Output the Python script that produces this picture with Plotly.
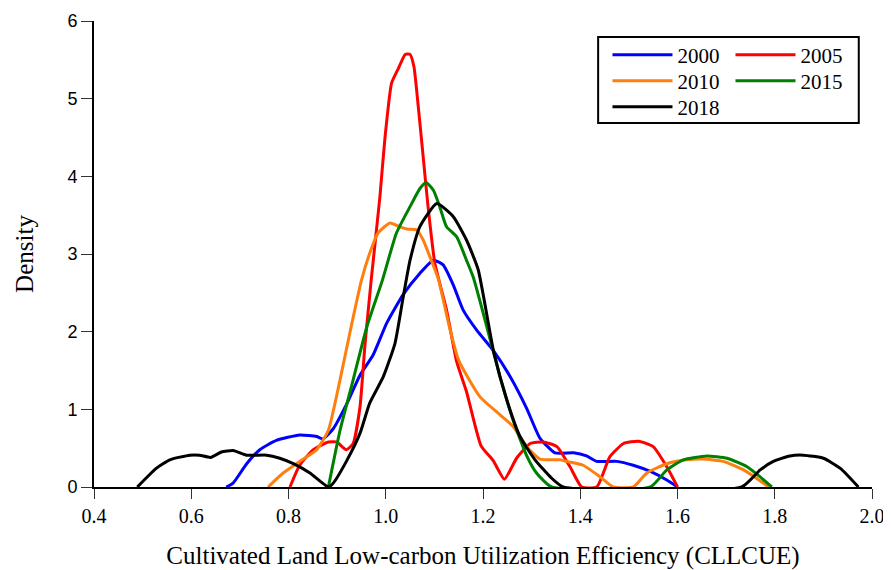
import plotly.graph_objects as go

# ---- data (kernel density curves) ----
years = ["2000", "2005", "2010", "2015", "2018"]

x2000 = [0.672, 0.686, 0.714, 0.741, 0.775, 0.823, 0.858, 0.871, 0.892, 0.919, 0.947, 0.974,
         1.002, 1.036, 1.070, 1.098, 1.118, 1.139, 1.159, 1.187, 1.221, 1.256, 1.290, 1.317,
         1.348, 1.386, 1.413, 1.434, 1.475, 1.509, 1.544, 1.578, 1.600]
y2000 = [0, 0.05, 0.30, 0.48, 0.60, 0.67, 0.65, 0.62, 0.75, 1.06, 1.44, 1.70,
         2.11, 2.48, 2.75, 2.92, 2.86, 2.60, 2.28, 2.02, 1.76, 1.42, 1.01, 0.63,
         0.44, 0.44, 0.40, 0.33, 0.33, 0.28, 0.20, 0.09, 0]

x2005 = [0.803, 0.823, 0.851, 0.882, 0.899, 0.919, 0.933, 0.947, 0.957, 0.970, 0.988, 0.998,
         1.012, 1.026, 1.040, 1.050, 1.058, 1.067, 1.077, 1.087, 1.101, 1.125, 1.146, 1.166,
         1.196, 1.221, 1.244, 1.269, 1.297, 1.324, 1.352, 1.379, 1.403, 1.434, 1.461, 1.489,
         1.520, 1.550, 1.578, 1.600]
y2005 = [0, 0.28, 0.48, 0.58, 0.58, 0.48, 0.56, 1.03, 1.81, 2.66, 3.74, 4.47,
         5.20, 5.39, 5.57, 5.57, 5.41, 4.89, 4.25, 3.61, 2.88, 2.28, 1.61, 1.23,
         0.53, 0.34, 0.10, 0.37, 0.56, 0.58, 0.52, 0.26, 0, 0, 0.39, 0.56,
         0.59, 0.52, 0.26, 0]

x2010 = [0.758, 0.789, 0.823, 0.858, 0.882, 0.906, 0.926, 0.950, 0.967, 0.984, 1.009, 1.029,
         1.046, 1.064, 1.077, 1.091, 1.108, 1.131, 1.150, 1.194, 1.235, 1.262, 1.290, 1.317,
         1.358, 1.372, 1.406, 1.441, 1.468, 1.509, 1.537, 1.578, 1.619, 1.653, 1.694, 1.736,
         1.763, 1.787]
y2010 = [0, 0.18, 0.33, 0.48, 0.73, 1.38, 1.98, 2.66, 3.01, 3.27, 3.40, 3.35,
         3.32, 3.31, 3.18, 2.96, 2.68, 2.06, 1.63, 1.16, 0.93, 0.78, 0.52, 0.36,
         0.35, 0.33, 0.28, 0.13, 0, 0, 0.18, 0.30, 0.35, 0.36, 0.33, 0.22,
         0.11, 0]

x2015 = [0.882, 0.906, 0.933, 0.961, 0.993, 1.022, 1.050, 1.070, 1.083, 1.098, 1.111, 1.125,
         1.146, 1.166, 1.180, 1.208, 1.235, 1.262, 1.290, 1.310, 1.341, 1.544, 1.578, 1.612,
         1.660, 1.702, 1.743, 1.770, 1.794]
y2015 = [0, 0.73, 1.38, 2.06, 2.66, 3.27, 3.61, 3.84, 3.92, 3.82, 3.61, 3.35,
         3.22, 2.92, 2.70, 2.06, 1.42, 0.86, 0.40, 0.18, 0, 0, 0.22, 0.35,
         0.40, 0.37, 0.26, 0.13, 0]

x2018 = [0.489, 0.528, 0.556, 0.597, 0.617, 0.640, 0.662, 0.686, 0.714, 0.755, 0.782, 0.810,
         0.844, 0.882, 0.892, 0.919, 0.947, 0.967, 0.995, 1.019, 1.036, 1.050, 1.070, 1.105,
         1.139, 1.166, 1.190, 1.222, 1.249, 1.276, 1.307, 1.340, 1.365, 1.732, 1.770, 1.797,
         1.831, 1.859, 1.900, 1.935, 1.972]
y2018 = [0, 0.24, 0.35, 0.41, 0.41, 0.38, 0.45, 0.47, 0.41, 0.41, 0.37, 0.30,
         0.18, 0, 0.05, 0.33, 0.69, 1.08, 1.42, 1.85, 2.45, 2.92, 3.35, 3.65,
         3.48, 3.18, 2.80, 1.74, 1.12, 0.65, 0.35, 0.12, 0, 0, 0.22, 0.33,
         0.40, 0.41, 0.37, 0.24, 0]

series_x = [x2000, x2005, x2010, x2015, x2018]
series_y = [y2000, y2005, y2010, y2015, y2018]
colors = ["#0000FF", "#FF0000", "#FF7F0E", "#008000", "#000000"]
legend_ids = ["legend", "legend", "legend2", "legend2", "legend3"]   # one legend per row

SERIF = "Liberation Serif, serif"
SANS = "Liberation Sans, sans-serif"

fig = go.Figure()
for name, xs, ys, c, lg in zip(years, series_x, series_y, colors, legend_ids):
    fig.add_trace(go.Scatter(x=xs, y=ys, mode="lines", name=name,
                             line=dict(color=c, width=3, shape="spline", smoothing=0.5),
                             legend=lg))

def legend_row(ypos):
    return dict(font=dict(family=SERIF, size=21, color="black"),
                bgcolor="rgba(0,0,0,0)", borderwidth=0, orientation="h",
                entrywidth=48, entrywidthmode="pixels",
                xanchor="left", yanchor="middle", itemwidth=60,
                x=0.660, y=ypos)

# the page body adds an 8px offset, so the figure is drawn 8px smaller
fig.update_layout(
    width=883, height=562,
    margin=dict(l=86, r=19, t=13, b=83),
    paper_bgcolor="white", plot_bgcolor="white",
    showlegend=True,
    legend=legend_row(0.927),
    legend2=legend_row(0.871),
    legend3=legend_row(0.8155),
    xaxis=dict(range=[0.4, 2.0], tick0=0.4, dtick=0.2, tickformat=".1f",
               showline=True, linecolor="black", linewidth=2,
               ticks="outside", ticklen=10, tickwidth=1, tickcolor="#333",
               showgrid=False, zeroline=False, automargin=False,
               tickfont=dict(family=SERIF, size=20, color="black"),
               title=dict(text="Cultivated Land Low-carbon Utilization Efficiency (CLLCUE)",
                          font=dict(family=SERIF, size=25, color="black"), standoff=20)),
    yaxis=dict(range=[0, 6], dtick=1,
               showline=True, linecolor="black", linewidth=2,
               ticks="outside", ticklen=11, tickwidth=1, tickcolor="#333",
               showgrid=False, zeroline=False, automargin=False,
               tickfont=dict(family=SANS, size=18, color="black"),
               title=dict(text="Density",
                          font=dict(family=SERIF, size=25, color="black"), standoff=27)),
    shapes=[dict(type="rect", xref="paper", yref="paper",
                 x0=0.648, x1=0.983, y0=0.781, y1=0.9657,
                 line=dict(color="black", width=2), fillcolor="rgba(0,0,0,0)")],
)

fig.write_html("out.html")
